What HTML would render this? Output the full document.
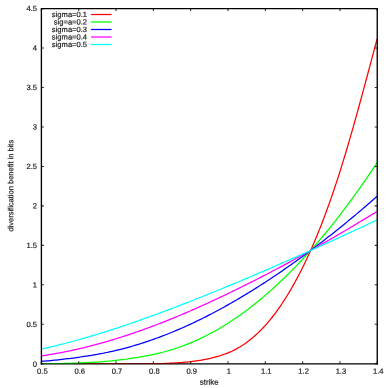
<!DOCTYPE html>
<html><head><meta charset="utf-8"><title>diversification benefit</title>
<style>
html,body{margin:0;padding:0;background:#fff;overflow:hidden}
svg{display:block}
text{font-family:"Liberation Sans",sans-serif;font-size:7.6px;fill:#111;stroke:#111;stroke-width:0.15px}
</style></head><body>
<svg width="388" height="388" viewBox="0 0 388 388">
<rect width="388" height="388" fill="#fff"/>
<filter id="tb" x="-5%" y="-5%" width="110%" height="110%"><feGaussianBlur stdDeviation="0.28"/></filter>
<clipPath id="cp"><rect x="42.1" y="363" width="334.45" height="1"/></clipPath>
<clipPath id="cu"><rect x="0" y="0" width="388" height="364"/></clipPath>
<g fill="none" stroke-width="1.25" stroke-linejoin="round" clip-path="url(#cu)">
<polyline points="41.40,363.80 43.27,363.80 45.13,363.80 47.00,363.80 48.86,363.80 50.73,363.80 52.60,363.80 54.46,363.80 56.33,363.80 58.19,363.80 60.06,363.80 61.92,363.80 63.79,363.80 65.66,363.80 67.52,363.80 69.39,363.80 71.25,363.80 73.12,363.80 74.98,363.80 76.85,363.80 78.72,363.80 80.58,363.80 82.45,363.80 84.31,363.80 86.18,363.80 88.05,363.80 89.91,363.80 91.78,363.80 93.64,363.80 95.51,363.80 97.37,363.80 99.24,363.80 101.11,363.80 102.97,363.80 104.84,363.80 106.70,363.80 108.57,363.80 110.44,363.80 112.30,363.80 114.17,363.80 116.03,363.80 117.90,363.80 119.76,363.80 121.63,363.80 123.50,363.80 125.36,363.80 127.23,363.80 129.09,363.80 130.96,363.80 132.83,363.80 134.69,363.79 136.56,363.79 138.42,363.79 140.29,363.79 142.16,363.78 144.02,363.77 145.89,363.77 147.75,363.76 149.62,363.74 151.48,363.73 153.35,363.70 155.22,363.68 157.08,363.65 158.95,363.61 160.81,363.57 162.68,363.51 164.54,363.45 166.41,363.39 168.28,363.31 170.14,363.22 172.01,363.13 173.87,363.02 175.74,362.91 177.61,362.78 179.47,362.65 181.34,362.51 183.20,362.37 185.07,362.22 186.93,362.06 188.80,361.89 190.67,361.69 192.53,361.48 194.40,361.24 196.26,360.98 198.13,360.70 200.00,360.39 201.86,360.06 203.73,359.71 205.59,359.33 207.46,358.94 209.32,358.52 211.19,358.08 213.06,357.62 214.92,357.14 216.79,356.63 218.65,356.09 220.52,355.53 222.39,354.92 224.25,354.28 226.12,353.59 227.98,352.86 229.85,352.07 231.71,351.24 233.58,350.35 235.45,349.40 237.31,348.39 239.18,347.32 241.04,346.19 242.91,345.00 244.78,343.75 246.64,342.43 248.51,341.04 250.37,339.59 252.24,338.07 254.10,336.48 255.97,334.82 257.84,333.09 259.70,331.29 261.57,329.41 263.43,327.45 265.30,325.42 267.17,323.31 269.03,321.12 270.90,318.85 272.76,316.50 274.63,314.07 276.49,311.56 278.36,308.96 280.23,306.28 282.09,303.52 283.96,300.68 285.82,297.75 287.69,294.73 289.56,291.63 291.42,288.45 293.29,285.18 295.15,281.82 297.02,278.37 298.88,274.83 300.75,271.20 302.62,267.49 304.48,263.67 306.35,259.77 308.21,255.76 310.08,251.66 311.95,247.46 313.81,243.16 315.68,238.76 317.54,234.25 319.41,229.63 321.27,224.91 323.14,220.08 325.01,215.14 326.87,210.09 328.74,204.93 330.60,199.66 332.47,194.27 334.34,188.77 336.20,183.16 338.07,177.44 339.93,171.61 341.80,165.66 343.66,159.61 345.53,153.46 347.40,147.20 349.26,140.85 351.13,134.40 352.99,127.86 354.86,121.25 356.73,114.55 358.59,107.79 360.46,100.97 362.32,94.09 364.19,87.18 366.05,80.24 367.92,73.28 369.79,66.31 371.65,59.35 373.52,52.42 375.38,45.53 377.25,38.70" stroke="#ff0000"/>
<polyline points="41.40,363.76 43.27,363.75 45.13,363.74 47.00,363.73 48.86,363.72 50.73,363.70 52.60,363.68 54.46,363.66 56.33,363.63 58.19,363.60 60.06,363.57 61.92,363.53 63.79,363.49 65.66,363.45 67.52,363.40 69.39,363.34 71.25,363.28 73.12,363.22 74.98,363.15 76.85,363.07 78.72,363.00 80.58,362.92 82.45,362.83 84.31,362.74 86.18,362.65 88.05,362.55 89.91,362.45 91.78,362.35 93.64,362.24 95.51,362.14 97.37,362.03 99.24,361.91 101.11,361.78 102.97,361.64 104.84,361.49 106.70,361.34 108.57,361.17 110.44,361.00 112.30,360.81 114.17,360.62 116.03,360.41 117.90,360.20 119.76,359.98 121.63,359.74 123.50,359.50 125.36,359.25 127.23,359.00 129.09,358.73 130.96,358.46 132.83,358.18 134.69,357.89 136.56,357.60 138.42,357.29 140.29,356.98 142.16,356.65 144.02,356.32 145.89,355.98 147.75,355.62 149.62,355.25 151.48,354.87 153.35,354.48 155.22,354.07 157.08,353.64 158.95,353.20 160.81,352.74 162.68,352.26 164.54,351.77 166.41,351.26 168.28,350.73 170.14,350.18 172.01,349.61 173.87,349.02 175.74,348.41 177.61,347.78 179.47,347.14 181.34,346.47 183.20,345.78 185.07,345.08 186.93,344.35 188.80,343.61 190.67,342.84 192.53,342.06 194.40,341.25 196.26,340.42 198.13,339.58 200.00,338.71 201.86,337.82 203.73,336.92 205.59,335.99 207.46,335.04 209.32,334.07 211.19,333.08 213.06,332.07 214.92,331.04 216.79,329.99 218.65,328.92 220.52,327.82 222.39,326.71 224.25,325.57 226.12,324.41 227.98,323.24 229.85,322.04 231.71,320.81 233.58,319.57 235.45,318.31 237.31,317.03 239.18,315.72 241.04,314.39 242.91,313.05 244.78,311.68 246.64,310.29 248.51,308.88 250.37,307.45 252.24,306.00 254.10,304.53 255.97,303.04 257.84,301.52 259.70,299.99 261.57,298.44 263.43,296.87 265.30,295.27 267.17,293.66 269.03,292.03 270.90,290.38 272.76,288.70 274.63,287.01 276.49,285.30 278.36,283.57 280.23,281.82 282.09,280.05 283.96,278.25 285.82,276.44 287.69,274.61 289.56,272.76 291.42,270.89 293.29,269.00 295.15,267.09 297.02,265.16 298.88,263.21 300.75,261.24 302.62,259.25 304.48,257.24 306.35,255.20 308.21,253.15 310.08,251.08 311.95,248.98 313.81,246.87 315.68,244.73 317.54,242.58 319.41,240.40 321.27,238.20 323.14,235.98 325.01,233.74 326.87,231.48 328.74,229.20 330.60,226.90 332.47,224.57 334.34,222.22 336.20,219.86 338.07,217.47 339.93,215.06 341.80,212.62 343.66,210.17 345.53,207.70 347.40,205.20 349.26,202.68 351.13,200.14 352.99,197.58 354.86,195.00 356.73,192.40 358.59,189.78 360.46,187.14 362.32,184.47 364.19,181.79 366.05,179.09 367.92,176.36 369.79,173.62 371.65,170.86 373.52,168.08 375.38,165.28 377.25,162.46" stroke="#00ff00"/>
<polyline points="41.40,361.39 43.27,361.24 45.13,361.09 47.00,360.93 48.86,360.76 50.73,360.59 52.60,360.41 54.46,360.22 56.33,360.03 58.19,359.83 60.06,359.62 61.92,359.41 63.79,359.19 65.66,358.97 67.52,358.74 69.39,358.51 71.25,358.27 73.12,358.03 74.98,357.78 76.85,357.52 78.72,357.27 80.58,357.00 82.45,356.73 84.31,356.45 86.18,356.17 88.05,355.88 89.91,355.58 91.78,355.27 93.64,354.96 95.51,354.64 97.37,354.31 99.24,353.96 101.11,353.61 102.97,353.25 104.84,352.88 106.70,352.50 108.57,352.11 110.44,351.70 112.30,351.29 114.17,350.87 116.03,350.43 117.90,349.98 119.76,349.52 121.63,349.05 123.50,348.57 125.36,348.08 127.23,347.58 129.09,347.06 130.96,346.53 132.83,346.00 134.69,345.45 136.56,344.89 138.42,344.32 140.29,343.74 142.16,343.15 144.02,342.55 145.89,341.93 147.75,341.31 149.62,340.67 151.48,340.03 153.35,339.37 155.22,338.71 157.08,338.03 158.95,337.34 160.81,336.65 162.68,335.94 164.54,335.22 166.41,334.49 168.28,333.75 170.14,333.00 172.01,332.24 173.87,331.47 175.74,330.69 177.61,329.90 179.47,329.10 181.34,328.29 183.20,327.47 185.07,326.63 186.93,325.79 188.80,324.94 190.67,324.08 192.53,323.21 194.40,322.33 196.26,321.43 198.13,320.53 200.00,319.62 201.86,318.70 203.73,317.77 205.59,316.83 207.46,315.88 209.32,314.93 211.19,313.96 213.06,312.98 214.92,312.00 216.79,311.00 218.65,310.00 220.52,308.98 222.39,307.96 224.25,306.93 226.12,305.89 227.98,304.84 229.85,303.78 231.71,302.72 233.58,301.65 235.45,300.56 237.31,299.47 239.18,298.37 241.04,297.27 242.91,296.15 244.78,295.03 246.64,293.90 248.51,292.76 250.37,291.61 252.24,290.45 254.10,289.29 255.97,288.12 257.84,286.94 259.70,285.75 261.57,284.56 263.43,283.36 265.30,282.15 267.17,280.93 269.03,279.70 270.90,278.47 272.76,277.23 274.63,275.99 276.49,274.73 278.36,273.47 280.23,272.20 282.09,270.92 283.96,269.64 285.82,268.35 287.69,267.05 289.56,265.74 291.42,264.43 293.29,263.10 295.15,261.78 297.02,260.44 298.88,259.10 300.75,257.75 302.62,256.39 304.48,255.02 306.35,253.65 308.21,252.27 310.08,250.88 311.95,249.49 313.81,248.09 315.68,246.68 317.54,245.26 319.41,243.84 321.27,242.41 323.14,240.97 325.01,239.52 326.87,238.07 328.74,236.61 330.60,235.15 332.47,233.67 334.34,232.19 336.20,230.70 338.07,229.21 339.93,227.70 341.80,226.19 343.66,224.68 345.53,223.15 347.40,221.62 349.26,220.08 351.13,218.54 352.99,216.98 354.86,215.42 356.73,213.86 358.59,212.28 360.46,210.70 362.32,209.12 364.19,207.52 366.05,205.92 367.92,204.31 369.79,202.70 371.65,201.08 373.52,199.45 375.38,197.81 377.25,196.17" stroke="#0000ff"/>
<polyline points="41.40,355.87 43.27,355.59 45.13,355.31 47.00,355.02 48.86,354.72 50.73,354.41 52.60,354.10 54.46,353.78 56.33,353.45 58.19,353.12 60.06,352.78 61.92,352.42 63.79,352.06 65.66,351.70 67.52,351.32 69.39,350.94 71.25,350.54 73.12,350.14 74.98,349.73 76.85,349.32 78.72,348.89 80.58,348.46 82.45,348.02 84.31,347.57 86.18,347.11 88.05,346.64 89.91,346.17 91.78,345.69 93.64,345.20 95.51,344.71 97.37,344.20 99.24,343.69 101.11,343.17 102.97,342.65 104.84,342.12 106.70,341.58 108.57,341.03 110.44,340.47 112.30,339.91 114.17,339.35 116.03,338.77 117.90,338.19 119.76,337.60 121.63,337.01 123.50,336.41 125.36,335.80 127.23,335.18 129.09,334.56 130.96,333.93 132.83,333.30 134.69,332.66 136.56,332.01 138.42,331.36 140.29,330.70 142.16,330.04 144.02,329.36 145.89,328.69 147.75,328.00 149.62,327.31 151.48,326.62 153.35,325.92 155.22,325.21 157.08,324.49 158.95,323.78 160.81,323.05 162.68,322.32 164.54,321.58 166.41,320.84 168.28,320.10 170.14,319.34 172.01,318.58 173.87,317.82 175.74,317.05 177.61,316.28 179.47,315.50 181.34,314.72 183.20,313.93 185.07,313.13 186.93,312.33 188.80,311.53 190.67,310.72 192.53,309.91 194.40,309.09 196.26,308.27 198.13,307.44 200.00,306.61 201.86,305.77 203.73,304.93 205.59,304.08 207.46,303.23 209.32,302.38 211.19,301.52 213.06,300.66 214.92,299.79 216.79,298.92 218.65,298.04 220.52,297.16 222.39,296.28 224.25,295.39 226.12,294.50 227.98,293.61 229.85,292.71 231.71,291.80 233.58,290.90 235.45,289.99 237.31,289.07 239.18,288.16 241.04,287.24 242.91,286.31 244.78,285.38 246.64,284.45 248.51,283.51 250.37,282.58 252.24,281.63 254.10,280.69 255.97,279.74 257.84,278.78 259.70,277.83 261.57,276.87 263.43,275.91 265.30,274.94 267.17,273.97 269.03,273.00 270.90,272.02 272.76,271.04 274.63,270.06 276.49,269.07 278.36,268.08 280.23,267.09 282.09,266.10 283.96,265.10 285.82,264.09 287.69,263.09 289.56,262.08 291.42,261.07 293.29,260.06 295.15,259.04 297.02,258.02 298.88,256.99 300.75,255.97 302.62,254.94 304.48,253.90 306.35,252.87 308.21,251.83 310.08,250.79 311.95,249.74 313.81,248.69 315.68,247.64 317.54,246.59 319.41,245.53 321.27,244.47 323.14,243.41 325.01,242.34 326.87,241.27 328.74,240.20 330.60,239.12 332.47,238.05 334.34,236.96 336.20,235.88 338.07,234.79 339.93,233.70 341.80,232.61 343.66,231.52 345.53,230.42 347.40,229.32 349.26,228.21 351.13,227.11 352.99,226.00 354.86,224.88 356.73,223.77 358.59,222.65 360.46,221.53 362.32,220.41 364.19,219.28 366.05,218.15 367.92,217.02 369.79,215.89 371.65,214.75 373.52,213.61 375.38,212.47 377.25,211.32" stroke="#ff00ff"/>
<polyline points="41.40,349.08 43.27,348.67 45.13,348.25 47.00,347.83 48.86,347.40 50.73,346.96 52.60,346.52 54.46,346.07 56.33,345.62 58.19,345.16 60.06,344.69 61.92,344.22 63.79,343.74 65.66,343.26 67.52,342.77 69.39,342.28 71.25,341.78 73.12,341.27 74.98,340.76 76.85,340.25 78.72,339.73 80.58,339.20 82.45,338.67 84.31,338.14 86.18,337.60 88.05,337.05 89.91,336.50 91.78,335.95 93.64,335.39 95.51,334.83 97.37,334.26 99.24,333.69 101.11,333.11 102.97,332.53 104.84,331.95 106.70,331.36 108.57,330.77 110.44,330.17 112.30,329.57 114.17,328.96 116.03,328.35 117.90,327.74 119.76,327.12 121.63,326.50 123.50,325.88 125.36,325.25 127.23,324.62 129.09,323.98 130.96,323.34 132.83,322.70 134.69,322.05 136.56,321.40 138.42,320.75 140.29,320.09 142.16,319.43 144.02,318.76 145.89,318.10 147.75,317.43 149.62,316.75 151.48,316.08 153.35,315.40 155.22,314.72 157.08,314.03 158.95,313.34 160.81,312.65 162.68,311.96 164.54,311.26 166.41,310.56 168.28,309.86 170.14,309.15 172.01,308.44 173.87,307.73 175.74,307.02 177.61,306.31 179.47,305.59 181.34,304.87 183.20,304.14 185.07,303.42 186.93,302.69 188.80,301.96 190.67,301.23 192.53,300.50 194.40,299.76 196.26,299.02 198.13,298.28 200.00,297.54 201.86,296.79 203.73,296.04 205.59,295.30 207.46,294.54 209.32,293.79 211.19,293.04 213.06,292.28 214.92,291.52 216.79,290.76 218.65,290.00 220.52,289.23 222.39,288.47 224.25,287.70 226.12,286.93 227.98,286.16 229.85,285.39 231.71,284.61 233.58,283.84 235.45,283.06 237.31,282.28 239.18,281.50 241.04,280.71 242.91,279.93 244.78,279.14 246.64,278.36 248.51,277.57 250.37,276.78 252.24,275.98 254.10,275.19 255.97,274.40 257.84,273.60 259.70,272.80 261.57,272.00 263.43,271.20 265.30,270.40 267.17,269.59 269.03,268.79 270.90,267.98 272.76,267.17 274.63,266.36 276.49,265.55 278.36,264.74 280.23,263.93 282.09,263.11 283.96,262.30 285.82,261.48 287.69,260.66 289.56,259.84 291.42,259.02 293.29,258.19 295.15,257.37 297.02,256.54 298.88,255.72 300.75,254.89 302.62,254.06 304.48,253.23 306.35,252.40 308.21,251.56 310.08,250.73 311.95,249.89 313.81,249.05 315.68,248.22 317.54,247.38 319.41,246.54 321.27,245.69 323.14,244.85 325.01,244.01 326.87,243.16 328.74,242.31 330.60,241.46 332.47,240.61 334.34,239.76 336.20,238.91 338.07,238.06 339.93,237.21 341.80,236.35 343.66,235.49 345.53,234.64 347.40,233.78 349.26,232.92 351.13,232.06 352.99,231.20 354.86,230.33 356.73,229.47 358.59,228.60 360.46,227.74 362.32,226.87 364.19,226.00 366.05,225.13 367.92,224.26 369.79,223.39 371.65,222.51 373.52,221.64 375.38,220.77 377.25,219.89" stroke="#00ffff"/>
<path d="M91.1 14.50 H111.6" stroke="#ff0000"/>
<path d="M91.1 22.00 H111.6" stroke="#00ff00"/>
<path d="M91.1 29.50 H111.6" stroke="#0000ff"/>
<path d="M91.1 37.00 H111.6" stroke="#ff00ff"/>
<path d="M91.1 44.50 H111.6" stroke="#00ffff"/>
</g>
<g stroke="#000" stroke-width="1.1" fill="none" stroke-opacity="0.8">
<path d="M41.40 363.78 v-2.6 M41.40 8.6 v2.5"/>
<path d="M78.72 363.78 v-2.6 M78.72 8.6 v2.5"/>
<path d="M116.03 363.78 v-2.6 M116.03 8.6 v2.5"/>
<path d="M153.35 363.78 v-2.6 M153.35 8.6 v2.5"/>
<path d="M190.67 363.78 v-2.6 M190.67 8.6 v2.5"/>
<path d="M227.98 363.78 v-2.6 M227.98 8.6 v2.5"/>
<path d="M265.30 363.78 v-2.6 M265.30 8.6 v2.5"/>
<path d="M302.62 363.78 v-2.6 M302.62 8.6 v2.5"/>
<path d="M339.93 363.78 v-2.6 M339.93 8.6 v2.5"/>
<path d="M377.25 363.78 v-2.6 M377.25 8.6 v2.5"/>
<path d="M41.4 363.72 h2.5 M377.25 363.72 h-2.5"/>
<path d="M41.4 324.26 h2.5 M377.25 324.26 h-2.5"/>
<path d="M41.4 284.80 h2.5 M377.25 284.80 h-2.5"/>
<path d="M41.4 245.35 h2.5 M377.25 245.35 h-2.5"/>
<path d="M41.4 205.89 h2.5 M377.25 205.89 h-2.5"/>
<path d="M41.4 166.43 h2.5 M377.25 166.43 h-2.5"/>
<path d="M41.4 126.97 h2.5 M377.25 126.97 h-2.5"/>
<path d="M41.4 87.52 h2.5 M377.25 87.52 h-2.5"/>
<path d="M41.4 48.06 h2.5 M377.25 48.06 h-2.5"/>
<path d="M41.4 8.60 h2.5 M377.25 8.60 h-2.5"/>
</g>
<path d="M41.4 364.38 V8.6 H377.25 V364.38" fill="none" stroke="#000" stroke-width="1.35"/>
<path d="M40.725 363.78 H377.925" fill="none" stroke="#000" stroke-width="1.2"/>
<g opacity="0.3" clip-path="url(#cp)" fill="none" stroke-width="1.25" stroke-linejoin="round">
<polyline points="41.40,363.80 43.27,363.80 45.13,363.80 47.00,363.80 48.86,363.80 50.73,363.80 52.60,363.80 54.46,363.80 56.33,363.80 58.19,363.80 60.06,363.80 61.92,363.80 63.79,363.80 65.66,363.80 67.52,363.80 69.39,363.80 71.25,363.80 73.12,363.80 74.98,363.80 76.85,363.80 78.72,363.80 80.58,363.80 82.45,363.80 84.31,363.80 86.18,363.80 88.05,363.80 89.91,363.80 91.78,363.80 93.64,363.80 95.51,363.80 97.37,363.80 99.24,363.80 101.11,363.80 102.97,363.80 104.84,363.80 106.70,363.80 108.57,363.80 110.44,363.80 112.30,363.80 114.17,363.80 116.03,363.80 117.90,363.80 119.76,363.80 121.63,363.80 123.50,363.80 125.36,363.80 127.23,363.80 129.09,363.80 130.96,363.80 132.83,363.80 134.69,363.79 136.56,363.79 138.42,363.79 140.29,363.79 142.16,363.78 144.02,363.77 145.89,363.77 147.75,363.76 149.62,363.74 151.48,363.73 153.35,363.70 155.22,363.68 157.08,363.65 158.95,363.61 160.81,363.57 162.68,363.51 164.54,363.45 166.41,363.39 168.28,363.31 170.14,363.22 172.01,363.13 173.87,363.02 175.74,362.91 177.61,362.78 179.47,362.65 181.34,362.51 183.20,362.37 185.07,362.22 186.93,362.06 188.80,361.89 190.67,361.69 192.53,361.48 194.40,361.24 196.26,360.98 198.13,360.70 200.00,360.39 201.86,360.06 203.73,359.71 205.59,359.33 207.46,358.94 209.32,358.52 211.19,358.08 213.06,357.62 214.92,357.14 216.79,356.63 218.65,356.09 220.52,355.53 222.39,354.92 224.25,354.28 226.12,353.59 227.98,352.86 229.85,352.07 231.71,351.24 233.58,350.35 235.45,349.40 237.31,348.39 239.18,347.32 241.04,346.19 242.91,345.00 244.78,343.75 246.64,342.43 248.51,341.04 250.37,339.59 252.24,338.07 254.10,336.48 255.97,334.82 257.84,333.09 259.70,331.29 261.57,329.41 263.43,327.45 265.30,325.42 267.17,323.31 269.03,321.12 270.90,318.85 272.76,316.50 274.63,314.07 276.49,311.56 278.36,308.96 280.23,306.28 282.09,303.52 283.96,300.68 285.82,297.75 287.69,294.73 289.56,291.63 291.42,288.45 293.29,285.18 295.15,281.82 297.02,278.37 298.88,274.83 300.75,271.20 302.62,267.49 304.48,263.67 306.35,259.77 308.21,255.76 310.08,251.66 311.95,247.46 313.81,243.16 315.68,238.76 317.54,234.25 319.41,229.63 321.27,224.91 323.14,220.08 325.01,215.14 326.87,210.09 328.74,204.93 330.60,199.66 332.47,194.27 334.34,188.77 336.20,183.16 338.07,177.44 339.93,171.61 341.80,165.66 343.66,159.61 345.53,153.46 347.40,147.20 349.26,140.85 351.13,134.40 352.99,127.86 354.86,121.25 356.73,114.55 358.59,107.79 360.46,100.97 362.32,94.09 364.19,87.18 366.05,80.24 367.92,73.28 369.79,66.31 371.65,59.35 373.52,52.42 375.38,45.53 377.25,38.70" stroke="#ff0000"/>
<polyline points="41.40,363.76 43.27,363.75 45.13,363.74 47.00,363.73 48.86,363.72 50.73,363.70 52.60,363.68 54.46,363.66 56.33,363.63 58.19,363.60 60.06,363.57 61.92,363.53 63.79,363.49 65.66,363.45 67.52,363.40 69.39,363.34 71.25,363.28 73.12,363.22 74.98,363.15 76.85,363.07 78.72,363.00 80.58,362.92 82.45,362.83 84.31,362.74 86.18,362.65 88.05,362.55 89.91,362.45 91.78,362.35 93.64,362.24 95.51,362.14 97.37,362.03 99.24,361.91 101.11,361.78 102.97,361.64 104.84,361.49 106.70,361.34 108.57,361.17 110.44,361.00 112.30,360.81 114.17,360.62 116.03,360.41 117.90,360.20 119.76,359.98 121.63,359.74 123.50,359.50 125.36,359.25 127.23,359.00 129.09,358.73 130.96,358.46 132.83,358.18 134.69,357.89 136.56,357.60 138.42,357.29 140.29,356.98 142.16,356.65 144.02,356.32 145.89,355.98 147.75,355.62 149.62,355.25 151.48,354.87 153.35,354.48 155.22,354.07 157.08,353.64 158.95,353.20 160.81,352.74 162.68,352.26 164.54,351.77 166.41,351.26 168.28,350.73 170.14,350.18 172.01,349.61 173.87,349.02 175.74,348.41 177.61,347.78 179.47,347.14 181.34,346.47 183.20,345.78 185.07,345.08 186.93,344.35 188.80,343.61 190.67,342.84 192.53,342.06 194.40,341.25 196.26,340.42 198.13,339.58 200.00,338.71 201.86,337.82 203.73,336.92 205.59,335.99 207.46,335.04 209.32,334.07 211.19,333.08 213.06,332.07 214.92,331.04 216.79,329.99 218.65,328.92 220.52,327.82 222.39,326.71 224.25,325.57 226.12,324.41 227.98,323.24 229.85,322.04 231.71,320.81 233.58,319.57 235.45,318.31 237.31,317.03 239.18,315.72 241.04,314.39 242.91,313.05 244.78,311.68 246.64,310.29 248.51,308.88 250.37,307.45 252.24,306.00 254.10,304.53 255.97,303.04 257.84,301.52 259.70,299.99 261.57,298.44 263.43,296.87 265.30,295.27 267.17,293.66 269.03,292.03 270.90,290.38 272.76,288.70 274.63,287.01 276.49,285.30 278.36,283.57 280.23,281.82 282.09,280.05 283.96,278.25 285.82,276.44 287.69,274.61 289.56,272.76 291.42,270.89 293.29,269.00 295.15,267.09 297.02,265.16 298.88,263.21 300.75,261.24 302.62,259.25 304.48,257.24 306.35,255.20 308.21,253.15 310.08,251.08 311.95,248.98 313.81,246.87 315.68,244.73 317.54,242.58 319.41,240.40 321.27,238.20 323.14,235.98 325.01,233.74 326.87,231.48 328.74,229.20 330.60,226.90 332.47,224.57 334.34,222.22 336.20,219.86 338.07,217.47 339.93,215.06 341.80,212.62 343.66,210.17 345.53,207.70 347.40,205.20 349.26,202.68 351.13,200.14 352.99,197.58 354.86,195.00 356.73,192.40 358.59,189.78 360.46,187.14 362.32,184.47 364.19,181.79 366.05,179.09 367.92,176.36 369.79,173.62 371.65,170.86 373.52,168.08 375.38,165.28 377.25,162.46" stroke="#00ff00"/>
<polyline points="41.40,361.39 43.27,361.24 45.13,361.09 47.00,360.93 48.86,360.76 50.73,360.59 52.60,360.41 54.46,360.22 56.33,360.03 58.19,359.83 60.06,359.62 61.92,359.41 63.79,359.19 65.66,358.97 67.52,358.74 69.39,358.51 71.25,358.27 73.12,358.03 74.98,357.78 76.85,357.52 78.72,357.27 80.58,357.00 82.45,356.73 84.31,356.45 86.18,356.17 88.05,355.88 89.91,355.58 91.78,355.27 93.64,354.96 95.51,354.64 97.37,354.31 99.24,353.96 101.11,353.61 102.97,353.25 104.84,352.88 106.70,352.50 108.57,352.11 110.44,351.70 112.30,351.29 114.17,350.87 116.03,350.43 117.90,349.98 119.76,349.52 121.63,349.05 123.50,348.57 125.36,348.08 127.23,347.58 129.09,347.06 130.96,346.53 132.83,346.00 134.69,345.45 136.56,344.89 138.42,344.32 140.29,343.74 142.16,343.15 144.02,342.55 145.89,341.93 147.75,341.31 149.62,340.67 151.48,340.03 153.35,339.37 155.22,338.71 157.08,338.03 158.95,337.34 160.81,336.65 162.68,335.94 164.54,335.22 166.41,334.49 168.28,333.75 170.14,333.00 172.01,332.24 173.87,331.47 175.74,330.69 177.61,329.90 179.47,329.10 181.34,328.29 183.20,327.47 185.07,326.63 186.93,325.79 188.80,324.94 190.67,324.08 192.53,323.21 194.40,322.33 196.26,321.43 198.13,320.53 200.00,319.62 201.86,318.70 203.73,317.77 205.59,316.83 207.46,315.88 209.32,314.93 211.19,313.96 213.06,312.98 214.92,312.00 216.79,311.00 218.65,310.00 220.52,308.98 222.39,307.96 224.25,306.93 226.12,305.89 227.98,304.84 229.85,303.78 231.71,302.72 233.58,301.65 235.45,300.56 237.31,299.47 239.18,298.37 241.04,297.27 242.91,296.15 244.78,295.03 246.64,293.90 248.51,292.76 250.37,291.61 252.24,290.45 254.10,289.29 255.97,288.12 257.84,286.94 259.70,285.75 261.57,284.56 263.43,283.36 265.30,282.15 267.17,280.93 269.03,279.70 270.90,278.47 272.76,277.23 274.63,275.99 276.49,274.73 278.36,273.47 280.23,272.20 282.09,270.92 283.96,269.64 285.82,268.35 287.69,267.05 289.56,265.74 291.42,264.43 293.29,263.10 295.15,261.78 297.02,260.44 298.88,259.10 300.75,257.75 302.62,256.39 304.48,255.02 306.35,253.65 308.21,252.27 310.08,250.88 311.95,249.49 313.81,248.09 315.68,246.68 317.54,245.26 319.41,243.84 321.27,242.41 323.14,240.97 325.01,239.52 326.87,238.07 328.74,236.61 330.60,235.15 332.47,233.67 334.34,232.19 336.20,230.70 338.07,229.21 339.93,227.70 341.80,226.19 343.66,224.68 345.53,223.15 347.40,221.62 349.26,220.08 351.13,218.54 352.99,216.98 354.86,215.42 356.73,213.86 358.59,212.28 360.46,210.70 362.32,209.12 364.19,207.52 366.05,205.92 367.92,204.31 369.79,202.70 371.65,201.08 373.52,199.45 375.38,197.81 377.25,196.17" stroke="#0000ff"/>
<polyline points="41.40,355.87 43.27,355.59 45.13,355.31 47.00,355.02 48.86,354.72 50.73,354.41 52.60,354.10 54.46,353.78 56.33,353.45 58.19,353.12 60.06,352.78 61.92,352.42 63.79,352.06 65.66,351.70 67.52,351.32 69.39,350.94 71.25,350.54 73.12,350.14 74.98,349.73 76.85,349.32 78.72,348.89 80.58,348.46 82.45,348.02 84.31,347.57 86.18,347.11 88.05,346.64 89.91,346.17 91.78,345.69 93.64,345.20 95.51,344.71 97.37,344.20 99.24,343.69 101.11,343.17 102.97,342.65 104.84,342.12 106.70,341.58 108.57,341.03 110.44,340.47 112.30,339.91 114.17,339.35 116.03,338.77 117.90,338.19 119.76,337.60 121.63,337.01 123.50,336.41 125.36,335.80 127.23,335.18 129.09,334.56 130.96,333.93 132.83,333.30 134.69,332.66 136.56,332.01 138.42,331.36 140.29,330.70 142.16,330.04 144.02,329.36 145.89,328.69 147.75,328.00 149.62,327.31 151.48,326.62 153.35,325.92 155.22,325.21 157.08,324.49 158.95,323.78 160.81,323.05 162.68,322.32 164.54,321.58 166.41,320.84 168.28,320.10 170.14,319.34 172.01,318.58 173.87,317.82 175.74,317.05 177.61,316.28 179.47,315.50 181.34,314.72 183.20,313.93 185.07,313.13 186.93,312.33 188.80,311.53 190.67,310.72 192.53,309.91 194.40,309.09 196.26,308.27 198.13,307.44 200.00,306.61 201.86,305.77 203.73,304.93 205.59,304.08 207.46,303.23 209.32,302.38 211.19,301.52 213.06,300.66 214.92,299.79 216.79,298.92 218.65,298.04 220.52,297.16 222.39,296.28 224.25,295.39 226.12,294.50 227.98,293.61 229.85,292.71 231.71,291.80 233.58,290.90 235.45,289.99 237.31,289.07 239.18,288.16 241.04,287.24 242.91,286.31 244.78,285.38 246.64,284.45 248.51,283.51 250.37,282.58 252.24,281.63 254.10,280.69 255.97,279.74 257.84,278.78 259.70,277.83 261.57,276.87 263.43,275.91 265.30,274.94 267.17,273.97 269.03,273.00 270.90,272.02 272.76,271.04 274.63,270.06 276.49,269.07 278.36,268.08 280.23,267.09 282.09,266.10 283.96,265.10 285.82,264.09 287.69,263.09 289.56,262.08 291.42,261.07 293.29,260.06 295.15,259.04 297.02,258.02 298.88,256.99 300.75,255.97 302.62,254.94 304.48,253.90 306.35,252.87 308.21,251.83 310.08,250.79 311.95,249.74 313.81,248.69 315.68,247.64 317.54,246.59 319.41,245.53 321.27,244.47 323.14,243.41 325.01,242.34 326.87,241.27 328.74,240.20 330.60,239.12 332.47,238.05 334.34,236.96 336.20,235.88 338.07,234.79 339.93,233.70 341.80,232.61 343.66,231.52 345.53,230.42 347.40,229.32 349.26,228.21 351.13,227.11 352.99,226.00 354.86,224.88 356.73,223.77 358.59,222.65 360.46,221.53 362.32,220.41 364.19,219.28 366.05,218.15 367.92,217.02 369.79,215.89 371.65,214.75 373.52,213.61 375.38,212.47 377.25,211.32" stroke="#ff00ff"/>
<polyline points="41.40,349.08 43.27,348.67 45.13,348.25 47.00,347.83 48.86,347.40 50.73,346.96 52.60,346.52 54.46,346.07 56.33,345.62 58.19,345.16 60.06,344.69 61.92,344.22 63.79,343.74 65.66,343.26 67.52,342.77 69.39,342.28 71.25,341.78 73.12,341.27 74.98,340.76 76.85,340.25 78.72,339.73 80.58,339.20 82.45,338.67 84.31,338.14 86.18,337.60 88.05,337.05 89.91,336.50 91.78,335.95 93.64,335.39 95.51,334.83 97.37,334.26 99.24,333.69 101.11,333.11 102.97,332.53 104.84,331.95 106.70,331.36 108.57,330.77 110.44,330.17 112.30,329.57 114.17,328.96 116.03,328.35 117.90,327.74 119.76,327.12 121.63,326.50 123.50,325.88 125.36,325.25 127.23,324.62 129.09,323.98 130.96,323.34 132.83,322.70 134.69,322.05 136.56,321.40 138.42,320.75 140.29,320.09 142.16,319.43 144.02,318.76 145.89,318.10 147.75,317.43 149.62,316.75 151.48,316.08 153.35,315.40 155.22,314.72 157.08,314.03 158.95,313.34 160.81,312.65 162.68,311.96 164.54,311.26 166.41,310.56 168.28,309.86 170.14,309.15 172.01,308.44 173.87,307.73 175.74,307.02 177.61,306.31 179.47,305.59 181.34,304.87 183.20,304.14 185.07,303.42 186.93,302.69 188.80,301.96 190.67,301.23 192.53,300.50 194.40,299.76 196.26,299.02 198.13,298.28 200.00,297.54 201.86,296.79 203.73,296.04 205.59,295.30 207.46,294.54 209.32,293.79 211.19,293.04 213.06,292.28 214.92,291.52 216.79,290.76 218.65,290.00 220.52,289.23 222.39,288.47 224.25,287.70 226.12,286.93 227.98,286.16 229.85,285.39 231.71,284.61 233.58,283.84 235.45,283.06 237.31,282.28 239.18,281.50 241.04,280.71 242.91,279.93 244.78,279.14 246.64,278.36 248.51,277.57 250.37,276.78 252.24,275.98 254.10,275.19 255.97,274.40 257.84,273.60 259.70,272.80 261.57,272.00 263.43,271.20 265.30,270.40 267.17,269.59 269.03,268.79 270.90,267.98 272.76,267.17 274.63,266.36 276.49,265.55 278.36,264.74 280.23,263.93 282.09,263.11 283.96,262.30 285.82,261.48 287.69,260.66 289.56,259.84 291.42,259.02 293.29,258.19 295.15,257.37 297.02,256.54 298.88,255.72 300.75,254.89 302.62,254.06 304.48,253.23 306.35,252.40 308.21,251.56 310.08,250.73 311.95,249.89 313.81,249.05 315.68,248.22 317.54,247.38 319.41,246.54 321.27,245.69 323.14,244.85 325.01,244.01 326.87,243.16 328.74,242.31 330.60,241.46 332.47,240.61 334.34,239.76 336.20,238.91 338.07,238.06 339.93,237.21 341.80,236.35 343.66,235.49 345.53,234.64 347.40,233.78 349.26,232.92 351.13,232.06 352.99,231.20 354.86,230.33 356.73,229.47 358.59,228.60 360.46,227.74 362.32,226.87 364.19,226.00 366.05,225.13 367.92,224.26 369.79,223.39 371.65,222.51 373.52,221.64 375.38,220.77 377.25,219.89" stroke="#00ffff"/>
</g>
<g filter="url(#tb)">
<text x="42.40" y="373.65" text-anchor="middle" transform="rotate(0.03 42.40 373.65)">0.5</text>
<text x="79.72" y="373.65" text-anchor="middle" transform="rotate(0.03 79.72 373.65)">0.6</text>
<text x="117.03" y="373.65" text-anchor="middle" transform="rotate(0.03 117.03 373.65)">0.7</text>
<text x="154.35" y="373.65" text-anchor="middle" transform="rotate(0.03 154.35 373.65)">0.8</text>
<text x="191.67" y="373.65" text-anchor="middle" transform="rotate(0.03 191.67 373.65)">0.9</text>
<text x="228.98" y="373.65" text-anchor="middle" transform="rotate(0.03 228.98 373.65)">1</text>
<text x="266.30" y="373.65" text-anchor="middle" transform="rotate(0.03 266.30 373.65)">1.1</text>
<text x="303.62" y="373.65" text-anchor="middle" transform="rotate(0.03 303.62 373.65)">1.2</text>
<text x="340.93" y="373.65" text-anchor="middle" transform="rotate(0.03 340.93 373.65)">1.3</text>
<text x="378.25" y="373.65" text-anchor="middle" transform="rotate(0.03 378.25 373.65)">1.4</text>
<text x="37.1" y="366.65" text-anchor="end" transform="rotate(0.03 37.1 366.65)">0</text>
<text x="37.1" y="327.14" text-anchor="end" transform="rotate(0.03 37.1 327.14)">0.5</text>
<text x="37.1" y="287.63" text-anchor="end" transform="rotate(0.03 37.1 287.63)">1</text>
<text x="37.1" y="248.12" text-anchor="end" transform="rotate(0.03 37.1 248.12)">1.5</text>
<text x="37.1" y="208.61" text-anchor="end" transform="rotate(0.03 37.1 208.61)">2</text>
<text x="37.1" y="169.10" text-anchor="end" transform="rotate(0.03 37.1 169.10)">2.5</text>
<text x="37.1" y="129.59" text-anchor="end" transform="rotate(0.03 37.1 129.59)">3</text>
<text x="37.1" y="90.08" text-anchor="end" transform="rotate(0.03 37.1 90.08)">3.5</text>
<text x="37.1" y="50.57" text-anchor="end" transform="rotate(0.03 37.1 50.57)">4</text>
<text x="37.1" y="11.06" text-anchor="end" transform="rotate(0.03 37.1 11.06)">4.5</text>
<text x="87.1" y="17.00" text-anchor="end" transform="rotate(0.03 87.1 17.00)">sigma=0.1</text>
<text x="87.1" y="24.50" text-anchor="end" transform="rotate(0.03 87.1 24.50)">sig=a=0.2</text>
<text x="87.1" y="32.00" text-anchor="end" transform="rotate(0.03 87.1 32.00)">sigma=0.3</text>
<text x="87.1" y="39.50" text-anchor="end" transform="rotate(0.03 87.1 39.50)">sigma=0.4</text>
<text x="87.1" y="47.00" text-anchor="end" transform="rotate(0.03 87.1 47.00)">sigma=0.5</text>
<text x="209.2" y="384.8" text-anchor="middle" transform="rotate(0.03 209.2 384.8)" style="font-size:7.85px">strike</text>
<text transform="translate(13.3 185.7) rotate(-89.97)" text-anchor="middle" style="font-size:7.5px">diversification benefit in bits</text>
</g>
</svg>
</body></html>
